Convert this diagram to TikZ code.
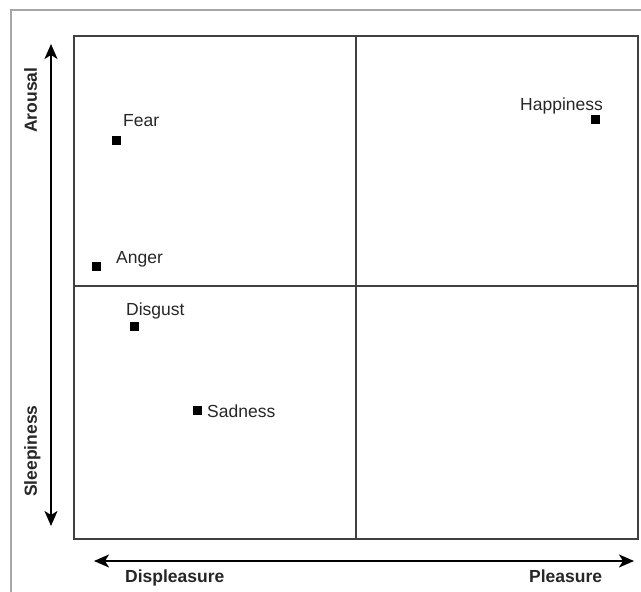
\documentclass[tikz,border=0pt]{standalone}
\usepackage{fontspec}
\setmainfont{Liberation Sans}
\usetikzlibrary{arrows.meta}
\tikzset{
  emotion/.style={fill=black,minimum size=9pt,inner sep=0pt},
  emolabel/.style={text=black!85,font=\fontsize{17.5}{20}\selectfont,inner sep=0pt,anchor=base west},
  axislabel/.style={text=black!85,font=\fontsize{17.5}{20}\selectfont\bfseries,inner sep=0pt,anchor=base west},
  axisarrow/.style={line width=1.8pt,{Stealth[length=15pt,width=13pt,inset=4pt]}-{Stealth[length=15pt,width=13pt,inset=4pt]}}
}
\begin{document}
\begin{tikzpicture}[x=1pt,y=-1pt]
\useasboundingbox (0,0) rectangle (641,592);
% frame and quadrants
\draw[gray!70,line width=2pt] (11,600) -- (11,10) -- (650,10);
\draw[black!75,line width=1.6pt] (74,36) rectangle (638,539);
\draw[black!75,line width=1.2pt] (356,36) -- (356,539) (74,286) -- (638,286);
% axes
\coordinate (top end) at (51,44);
\coordinate (bottom end) at (51,526);
\coordinate (left end) at (94,561);
\coordinate (right end) at (634,561);
\draw[axisarrow] (top end) -- (bottom end);
\draw[axisarrow] (left end) -- (right end);
\node[axislabel,rotate=90] (arousal) at (37,133) {Arousal};
\node[axislabel,rotate=90] (sleepiness) at (37,497) {Sleepiness};
\node[axislabel] (displeasure) at (125,582) {Displeasure};
\node[axislabel] (pleasure) at (529,582) {Pleasure};
% emotions
\node[emotion] (fear) at (116,140) {};
\node[emolabel] (fear label) at (123,126) {Fear};
\node[emotion] (happiness) at (595,119) {};
\node[emolabel] (happiness label) at (520,110) {Happiness};
\node[emotion] (anger) at (96,266) {};
\node[emolabel] (anger label) at (116,263) {Anger};
\node[emotion] (disgust) at (134,326) {};
\node[emolabel] (disgust label) at (126,315) {Disgust};
\node[emotion] (sadness) at (197,410) {};
\node[emolabel] (sadness label) at (207,417) {Sadness};
\end{tikzpicture}
\end{document}
